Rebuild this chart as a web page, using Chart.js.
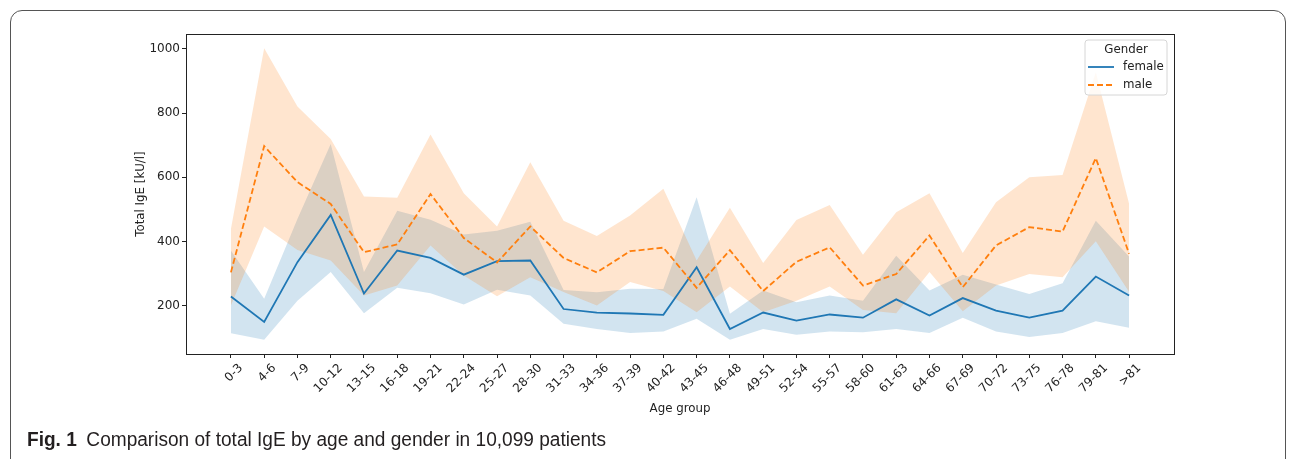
<!DOCTYPE html>
<html>
<head>
<meta charset="utf-8">
<script src="https://cdn.jsdelivr.net/npm/chart.js@4.4.1/dist/chart.umd.min.js"></script>
<style>
  html, body { margin: 0; padding: 0; background: #ffffff; }
  #wrap { position: relative; width: 1293px; height: 459px; overflow: hidden; }
  #frame { position: absolute; left: 10px; top: 10px; width: 1276px; height: 520px;
           border: 1px solid #555; border-radius: 12px; box-sizing: border-box; }
  #chart { position: absolute; left: 0; top: 0; }
  #cap { position: absolute; left: 27px; top: 428px; font-family: "Liberation Sans Narrow", "Liberation Sans", Arial, sans-serif;
         font-size: 20px; color: #231f20; white-space: nowrap; transform-origin: 0 0; }
  #cap b { font-weight: bold; margin-right: 10px; }
</style>
</head>
<body>
<div id="wrap">
  <div id="frame"></div>
  <canvas id="chart" width="1293" height="459"></canvas>
  <div id="cap"><b>Fig. 1</b>Comparison of total IgE by age and gender in 10,099 patients</div>
</div>
<script>
// ---- data ----
const categories = ['0-3','4-6','7-9','10-12','13-15','16-18','19-21','22-24','25-27','28-30',
  '31-33','34-36','37-39','40-42','43-45','46-48','49-51','52-54','55-57','58-60',
  '61-63','64-66','67-69','70-72','73-75','76-78','79-81','>81'];

const femaleMean  = [229,150,336,483,238,372,349,297,339,341,190,179,176,172,320,128,179,154,173,163,220,170,224,185,163,185,291,232];
const femaleLower = [115, 94,216,305,177,256,239,204,250,232,144,128,115,120,160, 94,128,110,120,118,128,115,163,120,103,115,152,132];
const femaleUpper = [372,222,470,704,305,496,468,422,434,462,249,242,253,252,538,175,248,211,232,216,356,248,297,266,237,270,465,353];

const maleMean  = [304,697,585,517,367,391,548,411,335,447,349,304,370,381,256,373,246,337,382,263,299,419,258,388,445,431,660,362];
const maleLower = [201,447,374,341,232,263,388,294,230,289,243,201,274,246,180,260,180,216,260,187,177,305,183,263,299,289,401,243];
const maleUpper = [439,1002,820,719,540,536,733,550,447,647,465,417,481,564,341,505,333,467,514,359,491,550,364,522,600,607,927,517];

const yTicks = [200, 400, 600, 800, 1000];
const seriesNames = ['female', 'male'];
const legendTitle = 'Gender';
const xTitle = 'Age group';
const yTitle = 'Total IgE [kU/l]';

// ---- styling ----
const BLUE = '#1f77b4';
const ORANGE = '#ff7f0e';
const BLUE_BAND = 'rgba(31,119,180,0.2)';
const ORANGE_BAND = 'rgba(255,127,14,0.2)';
const FONT = '"DejaVu Sans", sans-serif';

const pts = arr => arr.map((v, i) => ({ x: i, y: v }));

const spinesPlugin = {
  id: 'spines',
  afterDatasetsDraw(chart) {
    const { ctx, chartArea: a } = chart;
    ctx.save();
    ctx.strokeStyle = '#222';
    ctx.lineWidth = 1;
    ctx.strokeRect(Math.round(a.left) + 0.5, Math.round(a.top) + 0.5,
                   Math.round(a.right - a.left), Math.round(a.bottom - a.top));
    ctx.restore();
  }
};

const legendPlugin = {
  id: 'boxLegend',
  afterDraw(chart) {
    const { ctx, chartArea: a } = chart;
    const w = 82, h = 55;
    const x0 = a.right - 7 - w, y0 = a.top + 6;
    ctx.save();
    const r = 3;
    ctx.beginPath();
    ctx.moveTo(x0 + r, y0);
    ctx.arcTo(x0 + w, y0, x0 + w, y0 + h, r);
    ctx.arcTo(x0 + w, y0 + h, x0, y0 + h, r);
    ctx.arcTo(x0, y0 + h, x0, y0, r);
    ctx.arcTo(x0, y0, x0 + w, y0, r);
    ctx.closePath();
    ctx.fillStyle = 'rgba(255,255,255,0.8)';
    ctx.fill();
    ctx.strokeStyle = '#d6d6d6';
    ctx.lineWidth = 1;
    ctx.stroke();
    ctx.fillStyle = '#222';
    ctx.font = '11.8px ' + FONT;
    ctx.textAlign = 'center';
    ctx.textBaseline = 'middle';
    ctx.fillText(legendTitle, x0 + w / 2, y0 + 10);
    const rows = [
      { name: seriesNames[0], color: BLUE, dash: [] , y: y0 + 27 },
      { name: seriesNames[1], color: ORANGE, dash: [6, 3], y: y0 + 45 }
    ];
    rows.forEach(rw => {
      ctx.beginPath();
      ctx.setLineDash(rw.dash);
      ctx.strokeStyle = rw.color;
      ctx.lineWidth = 1.8;
      ctx.moveTo(x0 + 3, rw.y);
      ctx.lineTo(x0 + 29, rw.y);
      ctx.stroke();
      ctx.setLineDash([]);
      ctx.textAlign = 'left';
      ctx.fillStyle = '#222';
      ctx.fillText(rw.name, x0 + 38, rw.y);
    });
    ctx.restore();
  }
};

new Chart(document.getElementById('chart'), {
  type: 'line',
  data: {
    datasets: [
      { label: seriesNames[1], data: pts(maleMean), borderColor: ORANGE, borderWidth: 1.8,
        borderDash: [6, 3], pointRadius: 0, fill: false, tension: 0 },
      { label: seriesNames[0], data: pts(femaleMean), borderColor: BLUE, borderWidth: 1.8,
        pointRadius: 0, fill: false, tension: 0 },
      { label: 'male upper', data: pts(maleUpper), borderWidth: 0, borderColor: 'rgba(0,0,0,0)',
        backgroundColor: ORANGE_BAND, pointRadius: 0, fill: '+1', tension: 0 },
      { label: 'male lower', data: pts(maleLower), borderWidth: 0, borderColor: 'rgba(0,0,0,0)',
        pointRadius: 0, fill: false, tension: 0 },
      { label: 'female upper', data: pts(femaleUpper), borderWidth: 0, borderColor: 'rgba(0,0,0,0)',
        backgroundColor: BLUE_BAND, pointRadius: 0, fill: '+1', tension: 0 },
      { label: 'female lower', data: pts(femaleLower), borderWidth: 0, borderColor: 'rgba(0,0,0,0)',
        pointRadius: 0, fill: false, tension: 0 }
    ]
  },
  options: {
    responsive: false,
    animation: false,
    events: [],
    layout: { padding: { left: 130, top: 34, right: 119, bottom: 39 } },
    plugins: {
      legend: { display: false },
      tooltip: { enabled: false },
      filler: { propagate: false }
    },
    scales: {
      x: {
        type: 'linear',
        min: -1.35,
        max: categories.length - 1 + 1.35,
        afterBuildTicks: s => { s.ticks = categories.map((c, i) => ({ value: i })); },
        afterFit: s => { s.height = 66; },
        border: { display: false },
        grid: { drawOnChartArea: false, drawTicks: true, tickLength: 4, color: '#222', lineWidth: 1 },
        ticks: {
          autoSkip: false, minRotation: 45, maxRotation: 45, labelOffset: 10, padding: 3,
          color: '#222', font: { family: FONT, size: 12 },
          callback: v => categories[v]
        },
        title: { display: true, text: xTitle, color: '#222', font: { family: FONT, size: 11.8 },
                 padding: { top: 2, bottom: 4 } }
      },
      y: {
        type: 'linear',
        min: 50,
        max: 1046,
        afterBuildTicks: s => { s.ticks = yTicks.map(v => ({ value: v })); },
        afterFit: s => { s.width = 56; },
        border: { display: false },
        grid: { drawOnChartArea: false, drawTicks: true, tickLength: 4, color: '#222', lineWidth: 1 },
        ticks: { color: '#222', padding: 2, font: { family: FONT, size: 12 }, callback: v => String(v) },
        title: { display: true, text: yTitle, color: '#222', font: { family: FONT, size: 11.8 },
                 padding: { top: 4, bottom: 4 } }
      }
    }
  },
  plugins: [spinesPlugin, legendPlugin]
});

// fit caption width to the reference (x 27 -> 606)
const cap = document.getElementById('cap');
const cw = cap.getBoundingClientRect().width;
cap.style.transform = 'scaleX(' + (579 / cw) + ')';
</script>
</body>
</html>
